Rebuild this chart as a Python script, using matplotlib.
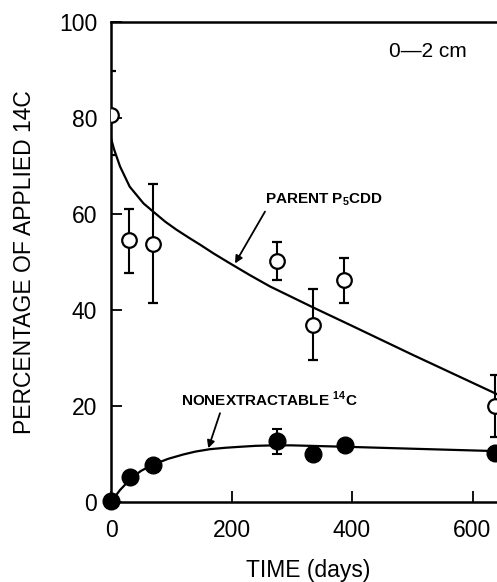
import matplotlib
matplotlib.use("Agg")
import matplotlib.pyplot as plt

plt.rcParams['font.family'] = ['Liberation Sans', 'DejaVu Sans']
plt.rcParams['mathtext.fontset'] = 'custom'
plt.rcParams['mathtext.rm'] = 'Liberation Sans'
plt.rcParams['mathtext.bf'] = 'Liberation Sans:bold'

# Parent P5CDD (open circles) with error bars
parent_days = [0, 30, 70, 275, 336, 387, 637]
parent_pct = [80.7, 54.5, 53.8, 50.3, 36.9, 46.2, 19.9]
parent_err_hi = [89.8, 61.0, 66.3, 54.2, 44.3, 50.8, 26.5]
parent_err_lo = [72.3, 47.8, 41.4, 46.2, 29.6, 41.4, 13.6]

# Nonextractable 14C (filled circles)
nonext_days = [0, 32, 70, 275, 336, 388, 637]
nonext_pct = [0.3, 5.3, 7.7, 12.7, 10.0, 11.9, 10.2]
nonext_err_hi = [None, None, None, 15.2, None, None, None]
nonext_err_lo = [None, None, None, 10.1, None, None, None]

# Fitted curves
parent_fit_days = [0, 5, 15, 31, 54, 70, 90, 109, 130, 148, 170, 195, 230, 264, 300, 336, 400, 500, 640]
parent_fit_pct = [75.8, 73.5, 69.9, 65.7, 62.2, 60.5, 58.4, 56.7, 55.0, 53.6, 51.8, 49.9, 47.3, 44.9, 42.7, 40.5, 36.7, 30.7, 22.5]

nonext_fit_days = [0, 15, 34, 50, 70, 95, 120, 140, 164, 190, 214, 240, 270, 300, 391, 500, 640]
nonext_fit_pct = [0.0, 2.5, 5.0, 6.5, 7.8, 9.0, 9.9, 10.5, 11.0, 11.3, 11.5, 11.7, 11.8, 11.8, 11.5, 11.1, 10.6]

x_ticks = [0, 200, 400, 600]
y_ticks = [0, 20, 40, 60, 80, 100]

fig = plt.figure(figsize=(4.97, 5.82), dpi=100)
W, H = 497.0, 582.0
px_per_day = 0.6025
xmax = 700
ax = fig.add_axes([111 / W, (582 - 502) / H, xmax * px_per_day / W, 480 / H])

ax.plot(parent_fit_days, parent_fit_pct, color='black', lw=1.6, zorder=2)
ax.plot(nonext_fit_days, nonext_fit_pct, color='black', lw=1.6, zorder=2)

lo = [p - l for p, l in zip(parent_pct, parent_err_lo)]
hi = [h - p for p, h in zip(parent_pct, parent_err_hi)]
ax.errorbar(parent_days, parent_pct, yerr=[lo, hi], fmt='o', ms=10.5, mfc='white',
            mec='black', mew=1.6, ecolor='black', elinewidth=1.5, capsize=3.5,
            capthick=1.5, color='black', zorder=3)

ne_d, ne_p, ne_lo, ne_hi = [], [], [], []
for d, p, l, h in zip(nonext_days, nonext_pct, nonext_err_lo, nonext_err_hi):
    if l is not None:
        ne_d.append(d); ne_p.append(p); ne_lo.append(p - l); ne_hi.append(h - p)
ax.errorbar(ne_d, ne_p, yerr=[ne_lo, ne_hi], fmt='none', ecolor='black',
            elinewidth=1.5, capsize=3.5, capthick=1.5, zorder=3)
ax.plot(nonext_days, nonext_pct, 'o', ms=12, color='black', zorder=4, clip_on=False)

ax.set_xlim(0, xmax)
ax.set_ylim(0, 100)
ax.set_xticks(x_ticks)
ax.set_yticks(y_ticks)
ax.tick_params(direction='in', length=8, width=1.3, labelsize=16.5)
ax.tick_params(axis='y', pad=10)
ax.tick_params(axis='x', pad=12)
for s in ax.spines.values():
    s.set_linewidth(1.8)

ax.set_ylabel('PERCENTAGE OF APPLIED 14C', fontsize=16.5)
ax.yaxis.set_label_coords(-(111 - 25) / (xmax * px_per_day), 0.5)
ax.yaxis.label.set_va('center')
ax.text(327, -14.2, 'TIME (days)', fontsize=16.5, ha='center', va='center')

ax.text(526, 93.8, '0\u20142 cm', fontsize=15, ha='center', va='center')

ax.text(255, 62.2, r'PARENT P$_{\mathbf{5}}$CDD', fontsize=11, fontweight='bold',
        ha='left', va='baseline', family=['Liberation Sans Narrow', 'Liberation Sans'])
ax.annotate('', xy=(205.8, 49.7), xytext=(255.6, 60.5),
            arrowprops=dict(arrowstyle='-|>', color='black', lw=1.3,
                            mutation_scale=11, shrinkA=0, shrinkB=0))

ax.text(117, 19.9, r'NONEXTRACTABLE $^{\mathbf{14}}$C', fontsize=11, fontweight='bold',
        ha='left', va='baseline', family=['Liberation Sans Narrow', 'Liberation Sans'])
ax.annotate('', xy=(161.5, 11.2), xytext=(180.9, 18.5),
            arrowprops=dict(arrowstyle='-|>', color='black', lw=1.3,
                            mutation_scale=11, shrinkA=0, shrinkB=0))

fig.savefig('out.png', dpi=100)
